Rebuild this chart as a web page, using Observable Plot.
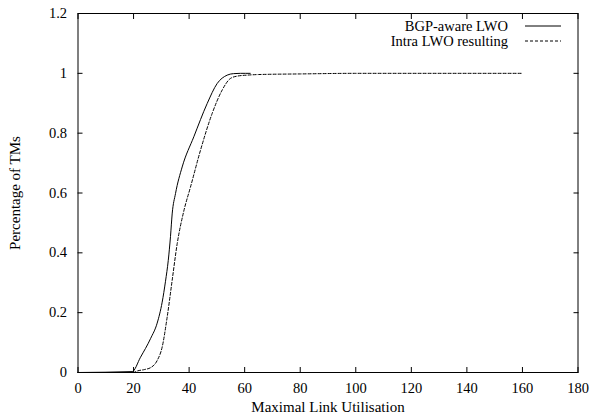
<!DOCTYPE html>
<html><head><meta charset="utf-8">
<script src="https://cdn.jsdelivr.net/npm/d3@7"></script>
<script src="https://cdn.jsdelivr.net/npm/@observablehq/plot@0.6"></script>
<style>body{margin:0;background:#fff}</style>
</head><body><div id="chart"></div>
<script>
const seriesNames = ["BGP-aware LWO", "Intra LWO resulting"];
const bgpX = [0, 19.5, 22.5, 26.1, 28.5, 30.3, 31.5, 32.5, 33.3, 33.9, 35.1, 37.5, 41.7, 46.5, 50.1, 53.7, 56, 58.5, 62];
const bgpY = [0, 0.003, 0.051, 0.113, 0.165, 0.235, 0.305, 0.375, 0.455, 0.53, 0.598, 0.687, 0.788, 0.899, 0.966, 0.994, 0.999, 1.0, 1.0];
const intraX = [0, 20, 21.3, 24, 26.1, 28.5, 30.3, 32.1, 33.9, 35.7, 38.1, 40.5, 44.1, 48.3, 51.9, 54.9, 57.5, 60.9, 65.1, 80, 100, 160];
const intraY = [0, 0, 0.005, 0.01, 0.016, 0.04, 0.085, 0.185, 0.308, 0.43, 0.54, 0.62, 0.743, 0.866, 0.944, 0.983, 0.991, 0.994, 0.996, 0.998, 1.0, 1.0];
const xTicks = [0, 20, 40, 60, 80, 100, 120, 140, 160, 180];
const yTicks = [0, 0.2, 0.4, 0.6, 0.8, 1, 1.2];
const xLabel = "Maximal Link Utilisation";
const yLabel = "Percentage of TMs";

const bgp = bgpX.map((x, i) => ({x, y: bgpY[i], s: seriesNames[0]}));
const intra = intraX.map((x, i) => ({x, y: intraY[i], s: seriesNames[1]}));

const font = "'Liberation Serif', 'Times New Roman', serif";
const plot = Plot.plot({
  width: 591, height: 418,
  marginLeft: 77.5, marginRight: 13.5, marginTop: 13, marginBottom: 46,
  style: {fontFamily: font, fontSize: "14px", color: "#000", background: "#fff"},
  x: {domain: [0, 180], label: null},
  y: {domain: [0, 1.2], label: null},
  marks: [
    Plot.axisX(xTicks, {anchor: "bottom", tickSize: -5, tickPadding: 15, tickFormat: d => String(d), label: null, fontSize: 14.5, fontFamily: font}),
    Plot.axisX(xTicks, {anchor: "top", tickSize: -5, tickFormat: () => "", label: null}),
    Plot.axisY(yTicks, {anchor: "left", tickSize: -5, tickPadding: 16, tickFormat: d => String(d), label: null, fontSize: 14.5, fontFamily: font}),
    Plot.axisY(yTicks, {anchor: "right", tickSize: -5, tickFormat: () => "", label: null}),
    Plot.frame({stroke: "#000", strokeWidth: 1}),
    Plot.line(bgp, {x: "x", y: "y", stroke: "#000", strokeWidth: 1, curve: "monotone-x"}),
    Plot.line(intra, {x: "x", y: "y", stroke: "#000", strokeWidth: 1, strokeDasharray: "3,2", curve: "monotone-x"}),
    Plot.text([xLabel], {text: d => d, frameAnchor: "bottom", textAnchor: "middle", dy: 39, fontSize: 15, fontFamily: font}),
    Plot.text([yLabel], {text: d => d, frameAnchor: "left", textAnchor: "middle", dx: -63, rotate: -90, fontSize: 15, fontFamily: font})
  ]
});
document.getElementById("chart").append(plot);

// legend (top-right, inside frame)
const svg = d3.select(plot);
const lg = svg.append("g").attr("font-family", font).attr("font-size", 14.5);
const rows = [{name: seriesNames[0], dash: null, y: 26}, {name: seriesNames[1], dash: "3,2", y: 41}];
rows.forEach(r => {
  lg.append("text").attr("x", 508).attr("y", r.y).attr("dy", "0.35em").attr("text-anchor", "end").attr("fill", "#000").text(r.name);
  lg.append("line").attr("x1", 525).attr("x2", 561).attr("y1", r.y).attr("y2", r.y)
    .attr("stroke", "#000").attr("stroke-width", 1).attr("stroke-dasharray", r.dash);
});
</script>
</body></html>
